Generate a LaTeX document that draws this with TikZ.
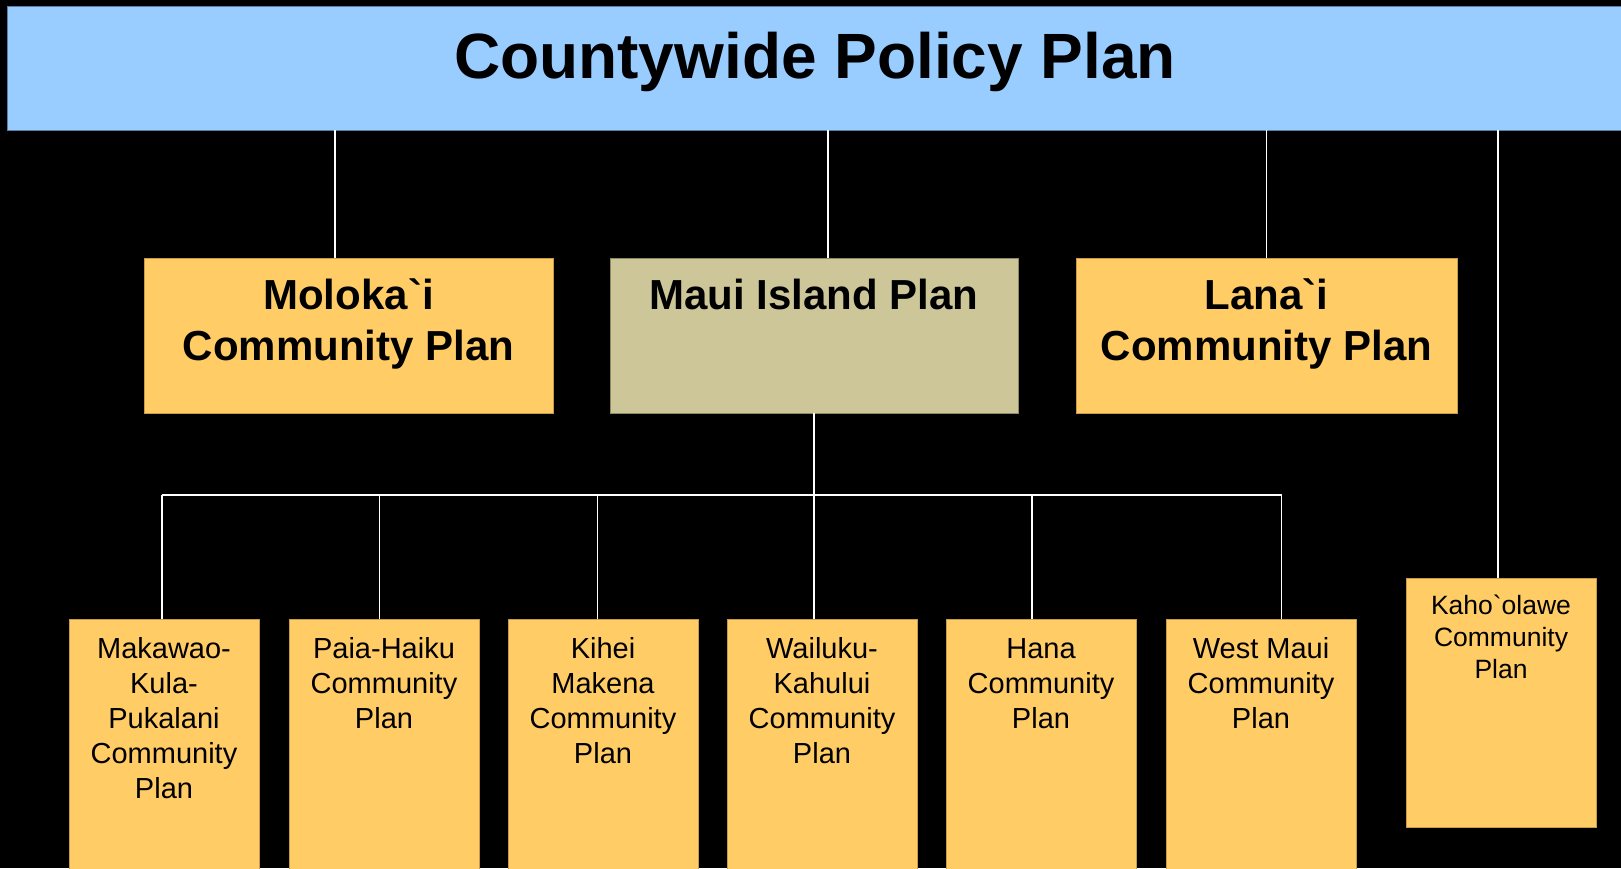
\documentclass[tikz,border=0pt]{standalone}
\usepackage{fontspec}
\newfontfamily\plansans{Liberation Sans}
\definecolor{titleblue}{HTML}{99CCFF}
\definecolor{titleedge}{HTML}{5A7FA0}
\definecolor{planorange}{HTML}{FFCC66}
\definecolor{orangeedge}{HTML}{C89B4A}
\definecolor{mauikhaki}{RGB}{204,198,153}
\definecolor{khakiedge}{HTML}{8F8A60}
% text block of a box: width, height, first baseline, lines
\newcommand{\boxtext}[4]{\parbox[c][#2][t]{#1}{\centering\rule{0pt}{#3}#4}}
\tikzset{
  planbox/.style={anchor=north west, inner sep=0pt, outer sep=0pt, line width=1pt,
    draw=orangeedge, fill=planorange},
  countyplan/.style={planbox, fill=titleblue, draw=titleedge,
    font=\plansans\bfseries\fontsize{64}{70}\selectfont},
  islandplan/.style={planbox, font=\plansans\bfseries\fontsize{42}{51}\selectfont},
  localplan/.style={planbox, font=\plansans\fontsize{29}{35}\selectfont},
  smallplan/.style={planbox, font=\plansans\fontsize{26.5}{32}\selectfont},
  link/.style={draw=white, line width=1.5pt},
}

\begin{document}
\begin{tikzpicture}[x=1pt,y=-1pt]
    \useasboundingbox (0,0) rectangle (1621,868);
    \fill[black] (0,0) rectangle (1621,868);

    \node[countyplan] (county) at (7,6)
        {\boxtext{1616pt}{124pt}{72pt}{Countywide Policy Plan}};

    \node[islandplan] (molokai) at (144,258)
        {\boxtext{409pt}{155pt}{51pt}{Moloka`i\\Community Plan}};
    \node[islandplan, fill=mauikhaki, draw=khakiedge] (maui) at (610,258)
        {\boxtext{408pt}{155pt}{51pt}{Maui Island Plan}};
    \node[islandplan] (lanai) at (1076,258)
        {\boxtext{381pt}{155pt}{51pt}{Lana`i\\Community Plan}};
    \node[smallplan] (kaho) at (1406,578)
        {\boxtext{190pt}{249pt}{36pt}{Kaho`olawe\\Community\\Plan}};

    \foreach \name/\xl/\txt in {mkp/69/{Makawao-\\Kula-\\Pukalani\\Community\\Plan},
        ph/289/{Paia-Haiku\\Community\\Plan},
        km/508/{Kihei\\Makena\\Community\\Plan},
        wk/727/{Wailuku-\\Kahului\\Community\\Plan},
        hana/946/{Hana\\Community\\Plan},
        wm/1166/{West Maui\\Community\\Plan}}
        \node[localplan] (\name) at (\xl,619) {\boxtext{190pt}{252pt}{39pt}{\txt}};

    % connectors
    \draw[link] ([xshift=-13.5pt]molokai.north) -- ([xshift=-13.5pt]molokai.north |- county.south);
    \draw[link] ([xshift=14pt]maui.north) -- ([xshift=14pt]maui.north |- county.south);
    \draw[link] (lanai.north) -- (lanai.north |- county.south);
    \draw[link] ([xshift=-3pt]kaho.north) -- ([xshift=-3pt]kaho.north |- county.south);

    \coordinate (bus) at (0,495);
    \draw[link] (maui.south) -- (maui.south |- bus);
    \draw[link] ([xshift=-2pt]mkp.north |- bus) -- ([xshift=20.5pt]wm.north |- bus);
    \foreach \name/\dx in {mkp/-2, ph/-4.5, km/-5.5, wk/-8, hana/-9, wm/20.5}
        \draw[link] ([xshift=\dx pt]\name.north) -- ([xshift=\dx pt]\name.north |- bus);
\end{tikzpicture}
\end{document}
